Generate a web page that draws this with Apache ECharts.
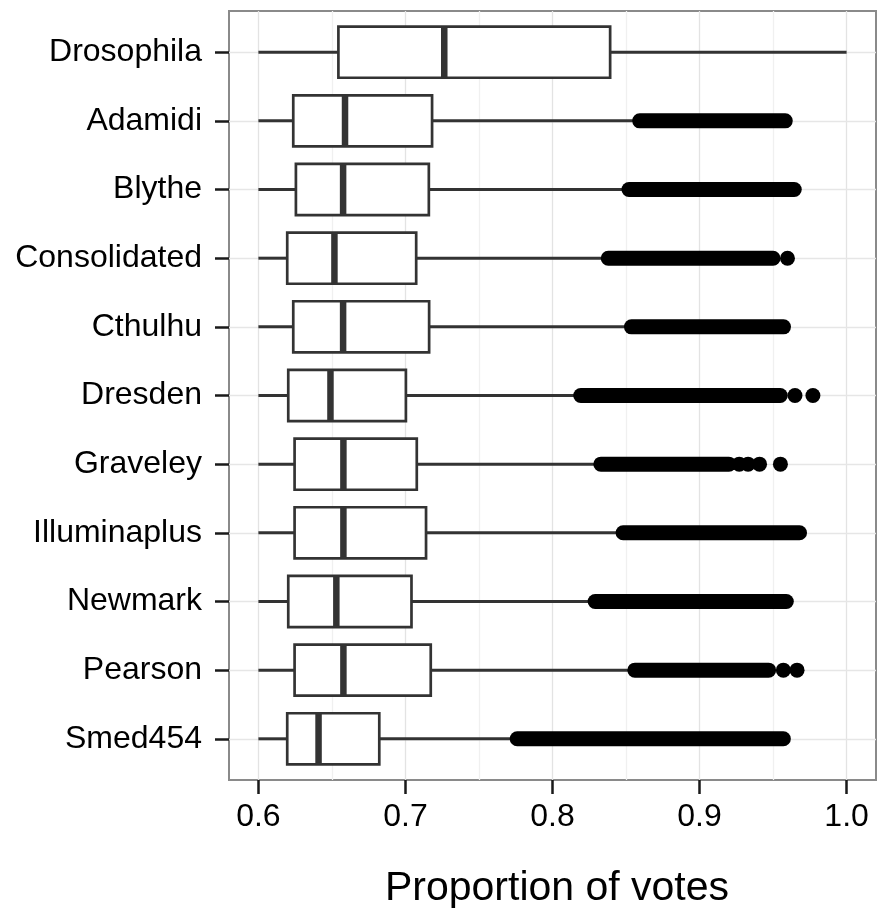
<!DOCTYPE html>
<html>
<head>
<meta charset="utf-8">
<script src="https://cdn.jsdelivr.net/npm/echarts@6/dist/echarts.min.js"></script>
<style>
html,body{margin:0;padding:0;background:#fff;}
#chart{width:878px;height:914px;}
</style>
</head>
<body>
<div id="chart"></div>
<script>
// ---- Data ----
const categories = ['Drosophila','Adamidi','Blythe','Consolidated','Cthulhu','Dresden','Graveley','Illuminaplus','Newmark','Pearson','Smed454'];
const whiskerLow  = [0.600, 0.600, 0.600, 0.600, 0.600, 0.600, 0.600, 0.600, 0.600, 0.600, 0.600];
const q1          = [0.6544,0.6237,0.6255,0.6196,0.6237,0.6203,0.6246,0.6246,0.6203,0.6246,0.6196];
const median      = [0.7264,0.6589,0.6576,0.6517,0.6576,0.6490,0.6578,0.6578,0.6530,0.6578,0.6409];
const q3          = [0.8392,0.7181,0.7159,0.7073,0.7161,0.7003,0.7077,0.7140,0.7041,0.7172,0.6822];
const whiskerHigh = [1.000, 0.8585,0.8510,0.8370,0.8530,0.8180,0.8320,0.8470,0.8280,0.8550,0.7750];
// dense runs of outlier points (first and last point of the run)
const outlierFrom = [null, 0.8593,0.8520,0.8379,0.8537,0.8192,0.8329,0.8480,0.8290,0.8560,0.7760];
const outlierTo   = [null, 0.9583,0.9644,0.9500,0.9571,0.9549,0.9200,0.9680,0.9590,0.9470,0.9570];
// isolated outlier points: [value, category index]
const extraOutliers = [
  [0.9598, 3],
  [0.9649, 5], [0.9771, 5],
  [0.9270, 6], [0.9330, 6], [0.9408, 6], [0.9550, 6],
  [0.9570, 9], [0.9663, 9]
];
const xTicks = [0.6, 0.7, 0.8, 0.9, 1.0];
const xMinorTicks = [0.65, 0.75, 0.85, 0.95];
const xTitle = 'Proportion of votes';

// ---- Chart ----
const FONT = '"Liberation Sans", Arial, Helvetica, sans-serif';
const yIdx = categories.map((c, i) => i);
const boxData = categories.map((c, i) => [i, whiskerLow[i], q1[i], median[i], q3[i], whiskerHigh[i]]);
const bandData = [];
categories.forEach((c, i) => { if (outlierFrom[i] != null) bandData.push([i, outlierFrom[i], outlierTo[i]]); });

const LINE = '#333333';
const WHISKER_W = 3;
const BORDER_W = 2.7;
const MEDIAN_W = 6.5;

function hbar(x1, x2, y, w, color) {
  return { type: 'rect', shape: { x: Math.min(x1, x2), y: y - w / 2, width: Math.abs(x2 - x1), height: w }, style: { fill: color } };
}

function renderBox(params, api) {
  const i = api.value(0);
  const lo = api.coord([api.value(1), i]);
  const b1 = api.coord([api.value(2), i]);
  const md = api.coord([api.value(3), i]);
  const b3 = api.coord([api.value(4), i]);
  const hi = api.coord([api.value(5), i]);
  const h = api.size([0, 1])[1] * 0.745;
  const y = lo[1];
  const hb = BORDER_W / 2;
  return {
    type: 'group',
    children: [
      hbar(lo[0], b1[0], y, WHISKER_W, LINE),
      hbar(b3[0], hi[0], y, WHISKER_W, LINE),
      { type: 'rect', shape: { x: b1[0] - hb, y: y - h / 2 - hb, width: b3[0] - b1[0] + BORDER_W, height: h + BORDER_W }, style: { fill: LINE } },
      { type: 'rect', shape: { x: b1[0] + hb, y: y - h / 2 + hb, width: b3[0] - b1[0] - BORDER_W, height: h - BORDER_W }, style: { fill: '#ffffff' } },
      { type: 'rect', shape: { x: md[0] - MEDIAN_W / 2, y: y - h / 2, width: MEDIAN_W, height: h }, style: { fill: LINE } }
    ]
  };
}

function renderBand(params, api) {
  const i = api.value(0);
  const a = api.coord([api.value(1), i]);
  const b = api.coord([api.value(2), i]);
  const d = 15;
  return {
    type: 'rect',
    shape: { x: a[0] - d / 2, y: a[1] - d / 2, width: b[0] - a[0] + d, height: d, r: d / 2 },
    style: { fill: '#000' }
  };
}

const gridLines = []
  .concat(xMinorTicks.map(v => ({ xAxis: v, lineStyle: { color: '#f0f0f0', width: 1.3, type: 'solid' } })))
  .concat(xTicks.map(v => ({ xAxis: v, lineStyle: { color: '#e3e3e3', width: 1.3, type: 'solid' } })))
  .concat(yIdx.map(v => ({ yAxis: v, lineStyle: { color: '#e6e6e6', width: 1.3, type: 'solid' } })));

const option = {
  animation: false,
  backgroundColor: '#fff',
  grid: {
    left: 229, right: 2, top: 11, bottom: 132,
    show: true, backgroundColor: '#fff', borderColor: '#8a8a8a', borderWidth: 2,
    containLabel: false
  },
  xAxis: {
    type: 'value', min: 0.58, max: 1.02, position: 'bottom',
    name: xTitle, nameLocation: 'middle', nameGap: 88,
    nameTextStyle: { fontSize: 41, color: '#000', fontFamily: FONT, padding: [0, 0, 0, 9] },
    axisLine: { show: false, onZero: false },
    axisTick: { show: true, customValues: xTicks, length: 14, lineStyle: { color: '#1a1a1a', width: 2.5 } },
    axisLabel: { customValues: xTicks, formatter: v => Number(v).toFixed(1), fontSize: 32, lineHeight: 32, color: '#000', margin: 21, fontFamily: FONT },
    splitLine: { show: false }
  },
  yAxis: {
    type: 'value', min: -0.6, max: 10.6, inverse: true, position: 'left',
    axisLine: { show: false, onZero: false },
    axisTick: { show: true, customValues: yIdx, length: 14, lineStyle: { color: '#1a1a1a', width: 2.5 } },
    axisLabel: { customValues: yIdx, formatter: v => categories[Math.round(v)] || '', fontSize: 32, color: '#000', margin: 27, fontFamily: FONT },
    splitLine: { show: false }
  },
  series: [
    {
      type: 'line', data: [], silent: true, z: 0,
      markLine: { z: 0, silent: true, symbol: ['none', 'none'], label: { show: false }, animation: false, data: gridLines }
    },
    { type: 'custom', renderItem: renderBox, data: boxData, z: 3, silent: true },
    { type: 'custom', renderItem: renderBand, data: bandData, z: 4, silent: true },
    {
      type: 'scatter', data: extraOutliers, symbolSize: 15, z: 5, silent: true,
      itemStyle: { color: '#000', opacity: 1 }
    }
  ]
};

const chart = echarts.init(document.getElementById('chart'));
chart.setOption(option);
</script>
</body>
</html>
